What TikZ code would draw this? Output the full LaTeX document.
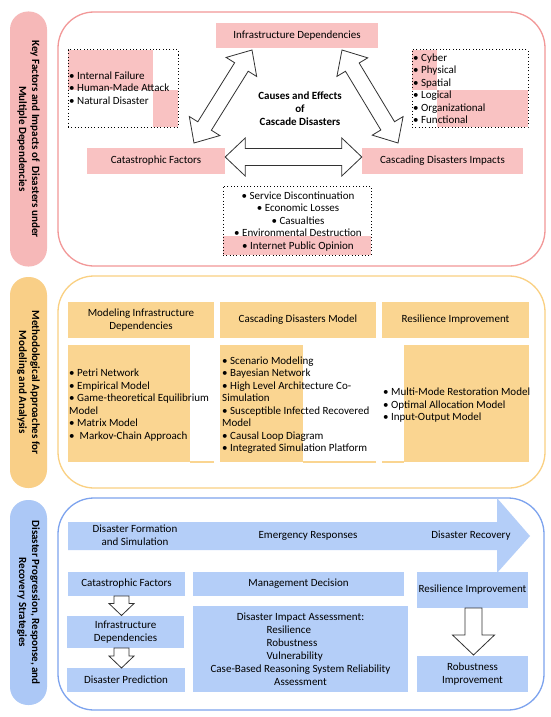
\documentclass[tikz,border=0pt]{standalone}
\usepackage{fontspec}
\setmainfont{Carlito}
\usetikzlibrary{calc}
\definecolor{pinkbox}{RGB}{249,194,194}
\definecolor{pinkpill}{RGB}{246,184,184}
\definecolor{pinkline}{RGB}{242,152,152}
\definecolor{orbox}{RGB}{250,213,145}
\definecolor{orpill}{RGB}{249,207,135}
\definecolor{orline}{RGB}{250,208,130}
\definecolor{bluebox}{RGB}{180,206,248}
\definecolor{bluepill}{RGB}{172,200,246}
\definecolor{blueline}{RGB}{125,163,238}
\definecolor{arrline}{RGB}{50,50,50}
% double block arrow: #1 tip A, #2 tip B, #3 head length, #4 shaft half width, #5 head half width
\newcommand{\DblArrow}[5]{%
  \draw[blockarrow] (#1) -- ($(#1)!#3!(#2)!#5!90:(#2)$) -- ($(#1)!#3!(#2)!#4!90:(#2)$)
   -- ($(#2)!#3!(#1)!#4!-90:(#1)$) -- ($(#2)!#3!(#1)!#5!-90:(#1)$) -- (#2)
   -- ($(#2)!#3!(#1)!#5!90:(#1)$) -- ($(#2)!#3!(#1)!#4!90:(#1)$)
   -- ($(#1)!#3!(#2)!#4!-90:(#2)$) -- ($(#1)!#3!(#2)!#5!-90:(#2)$) -- cycle;}
% single block arrow: #1 tail, #2 tip
\newcommand{\SglArrow}[5]{%
  \draw[blockarrow] ($(#1)!#4!90:(#2)$) -- ($(#2)!#3!(#1)!#4!-90:(#1)$)
   -- ($(#2)!#3!(#1)!#5!-90:(#1)$) -- (#2) -- ($(#2)!#3!(#1)!#5!90:(#1)$)
   -- ($(#2)!#3!(#1)!#4!90:(#1)$) -- ($(#1)!#4!-90:(#2)$) -- cycle;}
\begin{document}
\begin{tikzpicture}[x=1pt,y=-1pt,font=\fontsize{11}{13}\selectfont,
  pill/.style={rotate=-90,rounded corners=18pt,minimum height=37pt,inner sep=0pt,align=center,font=\fontsize{11}{13}\selectfont\bfseries},
  secbox/.style={rounded corners=36pt,line width=1.3pt,inner sep=0pt},
  pbox/.style={fill=pinkbox,inner sep=0pt,align=center},
  obox/.style={fill=orbox,inner sep=0pt,align=center},
  bbox/.style={fill=bluebox,inner sep=0pt,align=center},
  dotbox/.style={draw=black,line width=1pt,dash pattern=on 1pt off 2.3pt,inner sep=0pt},
  list/.style={inner sep=0pt,align=left,font=\fontsize{11}{12.5}\selectfont},
  blockarrow/.style={draw=arrline,fill=white,line width=0.8pt,line join=miter}]
\useasboundingbox (0,0) rectangle (550,717);
\fill[white] (0,0) rectangle (550,717);

% ---------- Section 1 ----------
\node[pill,fill=pinkpill,minimum width=255pt] (lab1) at (28.5,139) {Key Factors and Impacts of\ \ Disasters under\\Multiple Dependencies};
\node[secbox,draw=pinkline,minimum width=487pt,minimum height=254pt] (sec1) at (301.5,139) {};

\fill[pinkbox] (68,50) rectangle (153,90);
\fill[pinkbox] (153,90) rectangle (178,127);
\fill[pinkbox] (412,50) rectangle (437,90);
\fill[pinkbox] (437,90) rectangle (528,127);
\fill[pinkbox] (223,236) rectangle (371,255);

\node[dotbox,minimum width=110pt,minimum height=77pt] (d1) at (123,88.5) {};
\node[dotbox,minimum width=116pt,minimum height=77pt] (d2) at (470,88.5) {};
\node[dotbox,minimum width=148pt,minimum height=69pt] (d3) at (297,220.5) {};

\node[list,anchor=north west] (l1) at (69,71.5) {• Internal Failure\\• Human-Made Attack\\• Natural Disaster};
\node[list,anchor=north west] (l2) at (413,53.5) {• Cyber\\• Physical\\• Spatial\\• Logical\\• Organizational\\• Functional};
\node[list,align=center,anchor=north] (l3) at (298,191.5) {• Service Discontinuation\\• Economic Losses\\• Casualties\\• Environmental Destruction\\• Internet Public Opinion};

\node[pbox,minimum width=162pt,minimum height=25pt] (infra) at (297,35.5) {Infrastructure Dependencies};
\node[pbox,minimum width=138pt,minimum height=26pt] (cat) at (156,161) {Catastrophic Factors};
\node[pbox,minimum width=161pt,minimum height=26pt] (casc) at (442.5,161) {Cascading Disasters Impacts};
\node[font=\fontsize{11}{13}\selectfont\bfseries,align=center] (title) at (300,109) {Causes and Effects\\of\\Cascade Disasters};

\coordinate (a1s) at (194,143);
\coordinate (a1e) at (252,50);
\coordinate (a2s) at (342,50);
\coordinate (a2e) at (398,143);
\coordinate (a3s) at ($(cat.east)+(0,-4)$);
\coordinate (a3e) at ($(casc.west)+(0,-4)$);
\DblArrow{a1s}{a1e}{20pt}{8pt}{18pt}
\DblArrow{a2s}{a2e}{20pt}{8pt}{18pt}
\DblArrow{a3s}{a3e}{20pt}{8.5pt}{19pt}

% ---------- Section 2 ----------
\node[pill,fill=orpill,minimum width=211pt] (lab2) at (28.5,382.5) {Methodological Approaches for\\Modeling and Analysis};
\node[secbox,draw=orline,minimum width=487pt,minimum height=212pt] (sec2) at (301.5,382) {};

\node[obox,minimum width=146pt,minimum height=36pt] (h1) at (141,320) {Modeling Infrastructure\\Dependencies};
\node[obox,minimum width=156pt,minimum height=36pt] (h2) at (298,320) {Cascading Disasters Model};
\node[obox,minimum width=147pt,minimum height=36pt] (h3) at (455.5,320) {Resilience Improvement};

\fill[orbox] (68,345) rectangle (190,462);
\fill[orbox] (190,461) rectangle (214,462.5);
\fill[orbox] (220,345) rectangle (303,462);
\fill[orbox] (303,461) rectangle (376,462.5);
\fill[orbox] (404,345) rectangle (529,462);
\fill[orbox] (382,461) rectangle (404,462.5);

\node[list,anchor=north west] (l4) at (69,369) {• Petri Network\\• Empirical Model\\• Game-theoretical Equilibrium\\Model\\• Matrix Model\\•\ \ Markov-Chain Approach};
\node[list,anchor=north west] (l5) at (222,356.5) {• Scenario Modeling\\• Bayesian Network\\• High Level Architecture Co-\\Simulation\\• Susceptible Infected Recovered\\Model\\• Causal Loop Diagram\\• Integrated Simulation Platform};
\node[list,anchor=north west] (l6) at (383,388) {• Multi-Mode Restoration Model\\• Optimal Allocation Model\\• Input-Output Model};

% ---------- Section 3 ----------
\node[pill,fill=bluepill,minimum width=205pt] (lab3) at (28.5,602.5) {Disaster Progression, Response, and\\Recovery Strategies};
\node[secbox,draw=blueline,minimum width=486pt,minimum height=212pt] (sec3) at (301,604) {};

\fill[bluebox] (68,522) -- (497,522) -- (497,498) -- (530,536) -- (497,573) -- (497,550) -- (68,550) -- cycle;
\node[align=center] (t1) at (135,535) {Disaster Formation\\and Simulation};
\node (t2) at (308,536) {Emergency Responses};
\node (t3) at (471,536) {Disaster Recovery};

\node[bbox,minimum width=117pt,minimum height=24pt] (b1) at (126.5,584) {Catastrophic Factors};
\node[bbox,minimum width=117pt,minimum height=32pt] (b2) at (125.5,632) {Infrastructure\\Dependencies};
\node[bbox,minimum width=118pt,minimum height=24pt] (b3) at (126,680) {Disaster Prediction};
\node[bbox,minimum width=211pt,minimum height=24pt] (b4) at (298.5,584) {Management Decision};
\node[bbox,minimum width=215pt,minimum height=86pt] (b5) at (300.5,649) {Disaster Impact Assessment:\\\makebox[68pt][l]{Resilience}\\\makebox[68pt][l]{Robustness}\\\makebox[68pt][l]{Vulnerability}\\Case-Based Reasoning System Reliability\\Assessment};
\node[bbox,minimum width=111pt,minimum height=36pt] (b6) at (472.5,590) {Resilience Improvement};
\node[bbox,minimum width=111pt,minimum height=36pt] (b7) at (472.5,674) {Robustness\\Improvement};

\coordinate (s1a) at (121.5,596);
\coordinate (s1b) at (121.5,615.5);
\coordinate (s2a) at (121.5,648);
\coordinate (s2b) at (121.5,668);
\coordinate (s3a) at (473.5,608);
\coordinate (s3b) at (473.5,655);
\SglArrow{s1a}{s1b}{12pt}{7.5pt}{12.5pt}
\SglArrow{s2a}{s2b}{12pt}{7.5pt}{12.5pt}
\SglArrow{s3a}{s3b}{20pt}{8.5pt}{21pt}
\end{tikzpicture}
\end{document}
